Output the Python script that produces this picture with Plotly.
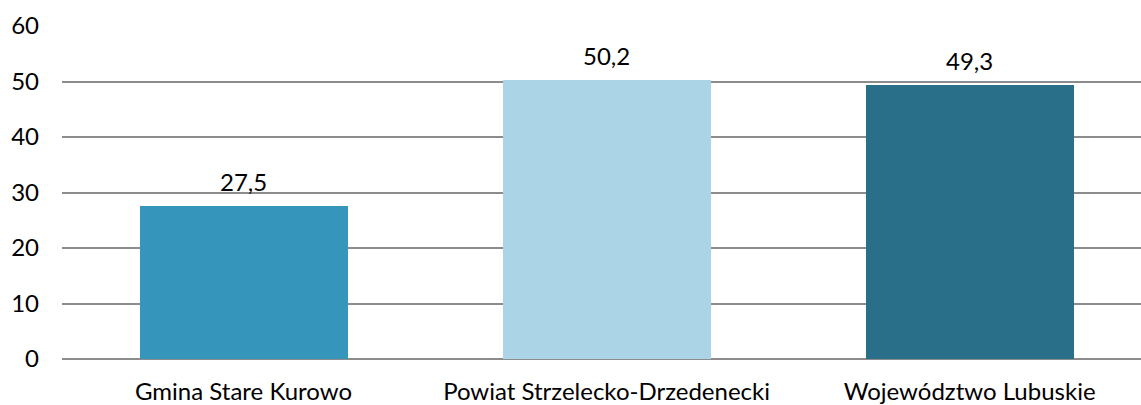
import plotly.graph_objects as go

# Data
categories = ["Gmina Stare Kurowo", "Powiat Strzelecko-Drzedenecki", "Województwo Lubuskie"]
values = [27.5, 50.2, 49.3]
bar_colors = ["#3595BB", "#ABD5E6", "#2A6F8A"]
y_ticks = [0, 10, 20, 30, 40, 50, 60]

FONT = "Lato, Carlito, Calibri, sans-serif"
FONT_SIZE = 24

x_pos = list(range(len(categories)))

fig = go.Figure(
    go.Bar(
        x=x_pos,
        y=values,
        marker=dict(color=bar_colors, line=dict(width=0)),
        width=0.573,
        hoverinfo="skip",
    )
)

# Value labels above each bar, comma as decimal separator
for xi, v in zip(x_pos, values):
    fig.add_annotation(
        x=xi,
        y=v,
        text=f"{v:.1f}".replace(".", ","),
        showarrow=False,
        yanchor="bottom",
        yshift=8,
        font=dict(family=FONT, size=FONT_SIZE, color="#000000"),
    )

fig.update_layout(
    width=1141,
    height=405,
    margin=dict(l=62, r=0, t=26, b=46),
    paper_bgcolor="white",
    plot_bgcolor="white",
    showlegend=False,
    font=dict(family=FONT, size=FONT_SIZE, color="#000000"),
    bargap=0,
)

fig.update_xaxes(
    range=[-0.5, 2.472],
    tickmode="array",
    tickvals=x_pos,
    ticktext=categories,
    showgrid=False,
    zeroline=False,
    showline=False,
    ticks="",
    ticklabelstandoff=16,
    tickfont=dict(family=FONT, size=FONT_SIZE, color="#000000"),
)

fig.update_yaxes(
    range=[0, 60],
    tickmode="array",
    tickvals=y_ticks,
    showgrid=True,
    gridcolor="#8C8C8C",
    gridwidth=1.5,
    zeroline=True,
    zerolinecolor="#8C8C8C",
    zerolinewidth=1.5,
    showline=False,
    ticks="",
    ticklabelstandoff=22,
    tickfont=dict(family=FONT, size=FONT_SIZE, color="#000000"),
)

fig.write_html("out.html")
